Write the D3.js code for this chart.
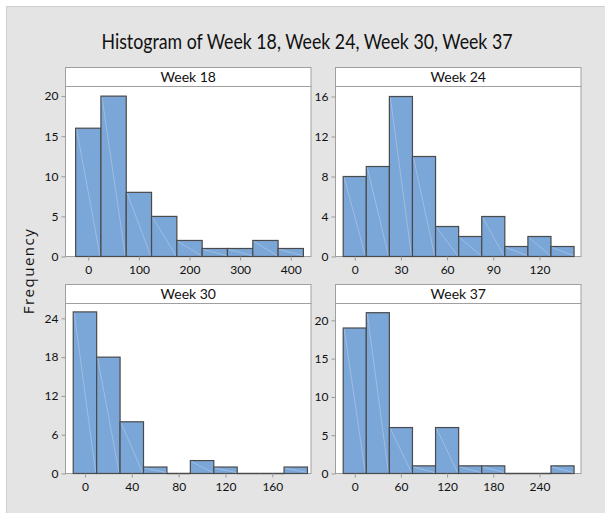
<!DOCTYPE html>
<html>
<head>
<meta charset="utf-8">
<script src="https://cdn.jsdelivr.net/npm/d3@7"></script>
<style>
  body { margin: 0; background: #fff; }
  svg { display: block; font-family: Lato, "Open Sans", sans-serif; }
  .frame { fill: #fff; stroke: #a0a0a0; stroke-width: 1; }
  .header { fill: #fff; stroke: #a0a0a0; stroke-width: 1; }
  .bar { fill: #7ba6d8; stroke: #4a4a4a; stroke-width: 1.2; }
  .zero { stroke: #4a4a4a; stroke-width: 1.5; }
  .streak { stroke: #e6eef8; stroke-width: 0.6; opacity: 0.55; }
  .tick text { font-size: 12px; fill: #111; font-family: Lato, sans-serif; }
  .tick line { stroke: #999; }
  .domain { display: none; }
</style>
</head>
<body>
<script>
  // panel titles
  var panelNames = ["Week 18", "Week 24", "Week 30", "Week 37"];

  // bin midpoints, bin widths, counts per panel
  var week18Mids = [0, 50, 100, 150, 200, 250, 300, 350, 400];
  var week18Counts = [16, 20, 8, 5, 2, 1, 1, 2, 1];
  var week24Mids = [0, 15, 30, 45, 60, 75, 90, 105, 120, 135];
  var week24Counts = [8, 9, 16, 10, 3, 2, 4, 1, 2, 1];
  var week30Mids = [0, 20, 40, 60, 80, 100, 120, 140, 160, 180];
  var week30Counts = [25, 18, 8, 1, 0, 2, 1, 0, 0, 1];
  var week37Mids = [0, 30, 60, 90, 120, 150, 180, 210, 240, 270];
  var week37Counts = [19, 21, 6, 1, 6, 1, 1, 0, 0, 1];
  var binWidths = [50, 15, 20, 30];

  // tick labels
  var week18XTicks = [0, 100, 200, 300, 400], week18YTicks = [0, 5, 10, 15, 20];
  var week24XTicks = [0, 30, 60, 90, 120], week24YTicks = [0, 4, 8, 12, 16];
  var week30XTicks = [0, 40, 80, 120, 160], week30YTicks = [0, 6, 12, 18, 24];
  var week37XTicks = [0, 60, 120, 180, 240], week37YTicks = [0, 5, 10, 15, 20];

  // axis ranges shown in each panel
  var xDomains = [[-45, 440], [-12.5, 147], [-16.6, 193], [-25, 294]];
  var yMaxes = [21.2, 17, 26.3, 22.2];

  var panels = [
    {mids: week18Mids, counts: week18Counts, xt: week18XTicks, yt: week18YTicks},
    {mids: week24Mids, counts: week24Counts, xt: week24XTicks, yt: week24YTicks},
    {mids: week30Mids, counts: week30Counts, xt: week30XTicks, yt: week30YTicks},
    {mids: week37Mids, counts: week37Counts, xt: week37XTicks, yt: week37YTicks}
  ];

  var W = 605, H = 513;
  var svg = d3.select("body").append("svg").attr("width", W).attr("height", H);

  svg.append("rect").attr("x", 6.5).attr("y", 6.5).attr("width", W).attr("height", H)
    .attr("fill", "#e4e4e4").attr("stroke", "#cfcfcf");

  svg.append("text")
    .attr("x", 307).attr("y", 49)
    .attr("text-anchor", "middle")
    .attr("textLength", 411).attr("lengthAdjust", "spacingAndGlyphs")
    .style("font-size", "21px").style("fill", "#111")
    .text("Histogram of Week 18, Week 24, Week 30, Week 37");

  svg.append("text")
    .attr("transform", "translate(34,271) rotate(-90)")
    .attr("text-anchor", "middle")
    .style("font-size", "15px").style("letter-spacing", "1.5px").style("fill", "#111")
    .style("font-family", "'Open Sans', sans-serif")
    .text("Frequency");

  var cols = [65, 335], rows = [67, 284];
  var pw = 245.5, headH = 19, ph = 170;

  panels.forEach(function (p, i) {
    var left = cols[i % 2], top = rows[Math.floor(i / 2)];
    var g = svg.append("g").attr("transform", "translate(" + (left + 0.5) + "," + (top + 0.5) + ")");
    var py = headH;

    var x = d3.scaleLinear().domain(xDomains[i]).range([0, pw]);
    var y = d3.scaleLinear().domain([0, yMaxes[i]]).range([py + ph, py]);
    var bw = binWidths[i];

    g.append("rect").attr("class", "header").attr("x", 0).attr("y", 0).attr("width", pw).attr("height", headH);
    g.append("text").attr("x", pw / 2).attr("y", 14.5).attr("text-anchor", "middle")
      .style("font-size", "14px").style("fill", "#111").text(panelNames[i]);

    g.append("rect").attr("class", "frame").attr("x", 0).attr("y", py).attr("width", pw).attr("height", ph);

    var bars = g.selectAll(".barg").data(p.mids).enter().append("g");
    bars.filter(function (d, j) { return p.counts[j] > 0; })
      .append("rect").attr("class", "bar")
      .attr("x", function (d) { return x(d - bw / 2); })
      .attr("y", function (d) { return y(p.counts[p.mids.indexOf(d)]); })
      .attr("width", function (d) { return x(d + bw / 2) - x(d - bw / 2); })
      .attr("height", function (d) { return y(0) - y(p.counts[p.mids.indexOf(d)]); });
    bars.filter(function (d, j) { return p.counts[j] === 0; })
      .append("line").attr("class", "zero")
      .attr("x1", function (d) { return x(d - bw / 2); })
      .attr("x2", function (d) { return x(d + bw / 2); })
      .attr("y1", y(0)).attr("y2", y(0));
    bars.filter(function (d, j) { return p.counts[j] > 0; })
      .append("line").attr("class", "streak")
      .attr("x1", function (d) { return x(d - bw / 2) + 1; })
      .attr("y1", function (d) { return y(p.counts[p.mids.indexOf(d)]) + 1; })
      .attr("x2", function (d) { return x(d + bw / 2) - 1; })
      .attr("y2", y(0) - 1);

    g.append("g").attr("transform", "translate(0," + (py + ph) + ")")
      .call(d3.axisBottom(x).tickValues(p.xt).tickSize(4).tickPadding(5));
    g.append("g")
      .call(d3.axisLeft(y).tickValues(p.yt).tickSize(4).tickPadding(3));
  });
</script>
</body>
</html>
